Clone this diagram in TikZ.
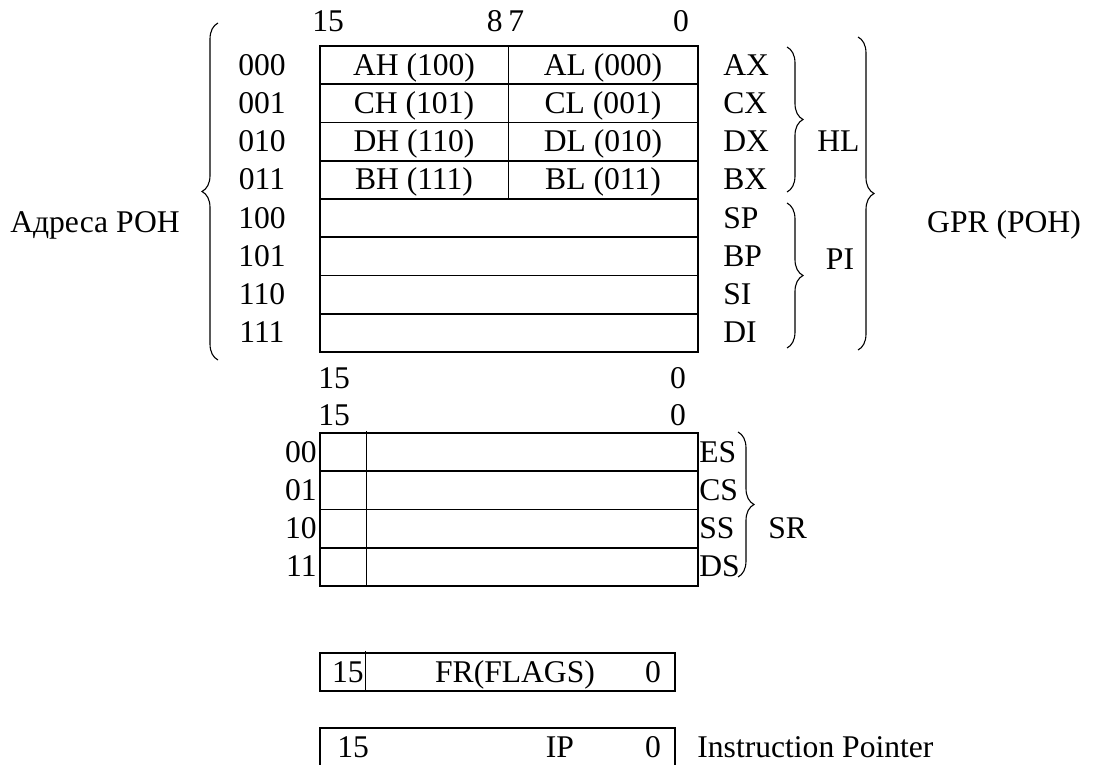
\documentclass[tikz,border=0pt]{standalone}
\usepackage{fontspec}
\setmainfont{Liberation Serif}
\usetikzlibrary{decorations.pathreplacing}
\begin{document}
\begin{tikzpicture}[x=0.5pt,y=-0.5pt,
  t/.style={inner sep=0pt, font=\fontsize{15.8pt}{19pt}\selectfont},
  box/.style={line width=0.8pt},
  thinline/.style={line width=0.5pt},
  brc/.style={decorate, decoration={brace, amplitude=8pt}, line width=0.55pt}]
\useasboundingbox (0,0) rectangle (1093,765);

% ---------- GPR block ----------
\foreach \i in {0,...,7}
  \draw[box] (320,{46+38.25*\i}) rectangle (698,{46+38.25*(\i+1)});
\draw[thinline] (508,46) -- (508,199);

\node[t, anchor=base west] (g15) at (312,32) {15};
\node[t, anchor=base east] (g8) at (503,32) {8};
\node[t, anchor=base west] (g7) at (508,32) {7};
\node[t, anchor=base] (g0) at (681,32) {0};

\foreach \a/\r [count=\i from 0] in {000/AX,001/CX,010/DX,011/BX,100/SP,101/BP,110/SI,111/DI} {
  \node[t, anchor=base] (adr\a) at (262,{46+38.25*(\i+0.5)+10}) {\a};
  \node[t, anchor=base west] (reg\r) at (723,{46+38.25*(\i+0.5)+10}) {\r};
}
\foreach \h/\l [count=\i from 0] in {AH (100)/AL (000),CH (101)/CL (001),DH (110)/DL (010),BH (111)/BL (011)} {
  \node[t, anchor=base] (hi\i) at (414,{46+38.25*(\i+0.5)+10}) {\h};
  \node[t, anchor=base] (lo\i) at (603,{46+38.25*(\i+0.5)+10}) {\l};
}

\node[t, anchor=base west] (b15a) at (318,388) {15};
\node[t, anchor=base] (b0a) at (678,388) {0};
\node[t, anchor=base west] (b15b) at (318,425) {15};
\node[t, anchor=base] (b0b) at (678,425) {0};

% braces GPR
\coordinate (lbB) at (218,360); \coordinate (lbT) at (218,23);
\draw[brc] (lbB) -- (lbT);
\node[t, anchor=base] (adrlbl) at (95,232) {Адреса РОН};

\coordinate (hlT) at (787,47); \coordinate (hlB) at (787,192);
\draw[brc] (hlT) -- (hlB);
\node[t, anchor=base west] (hl) at (817,152) {HL};

\coordinate (piT) at (787,203); \coordinate (piB) at (787,348);
\draw[brc] (piT) -- (piB);
\node[t, anchor=base] (pi) at (840,269) {PI};

\coordinate (gpT) at (858,37); \coordinate (gpB) at (858,350);
\draw[brc] (gpT) -- (gpB);
\node[t, anchor=base] (gpr) at (1004,232) {GPR (POH)};

% ---------- SR block ----------
\foreach \i in {0,...,3}
  \draw[box] (320,{433+38.25*\i}) rectangle (698,{433+38.25*(\i+1)});
\draw[thinline] (366,431) -- (366,586);
\foreach \a/\r [count=\i from 0] in {00/ES,01/CS,10/SS,11/DS} {
  \node[t, anchor=base east] (sadr\a) at (317,{433+38.25*(\i+0.5)+10}) {\a};
  \node[t, anchor=base west] (sreg\r) at (699,{433+38.25*(\i+0.5)+10}) {\r};
}
\coordinate (srT) at (738,432); \coordinate (srB) at (738,577);
\draw[brc] (srT) -- (srB);
\node[t, anchor=base west] (sr) at (768,538) {SR};

% ---------- FR ----------
\draw[box] (320,653) rectangle (675,691);
\draw[thinline] (365,651) -- (365,691);
\node[t, anchor=base east] (fr15) at (364,682) {15};
\node[t, anchor=base] (fr) at (515,682) {FR(FLAGS)};
\node[t, anchor=base] (fr0) at (653,682) {0};

% ---------- IP ----------
\draw[box] (320,728) rectangle (675,766);
\node[t, anchor=base west] (ip15) at (337,757) {15};
\node[t, anchor=base] (ip) at (560,757) {IP};
\node[t, anchor=base] (ip0) at (653,757) {0};
\node[t, anchor=base west] (ipname) at (697,757) {Instruction Pointer};
\end{tikzpicture}
\end{document}
